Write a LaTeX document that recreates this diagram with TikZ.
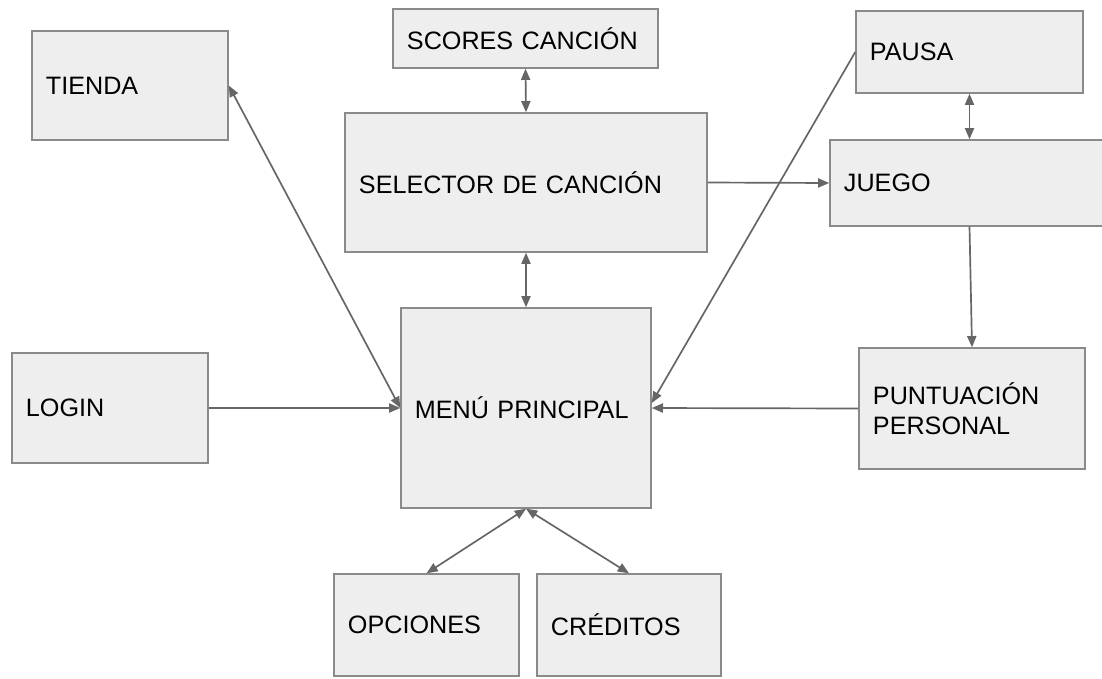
\documentclass[tikz,border=0pt]{standalone}
\usepackage{fontspec}
\setmainfont{Liberation Sans}
\usepackage{tikz}
\usetikzlibrary{arrows.meta}

\definecolor{cajagris}{HTML}{EEEEEE}
\definecolor{bordegris}{HTML}{8A8A8A}
\definecolor{flechagris}{HTML}{666666}

\begin{document}
\begin{tikzpicture}[x=0.025cm,y=-0.025cm,
    caja/.style={draw=bordegris,fill=cajagris,line width=1pt,inner xsep=0.35cm,
        align=left,font=\fontsize{17.9}{21.3}\selectfont},
    flecha/.style={draw=flechagris,line width=1.2pt,-{Triangle[length=8pt,width=6.5pt]}},
    doble/.style={flecha,{Triangle[length=8pt,width=6.5pt]}-{Triangle[length=8pt,width=6.5pt]}}]
            \clip (0,0) rectangle (1102,678);
            % cajas
            \node[caja,minimum width=6.625cm,minimum height=1.475cm,text width=5.925cm] (scores) at (525.5,38.5) {SCORES CANCIÓN};
            \node[caja,minimum width=4.9cm,minimum height=2.725cm,text width=4.2cm] (tienda) at (130,85.5) {TIENDA};
            \node[caja,minimum width=5.675cm,minimum height=2.05cm,text width=4.975cm] (pausa) at (969.5,52) {PAUSA};
            \node[caja,minimum width=9.05cm,minimum height=3.475cm,text width=8.35cm] (selector) at (526,182.5) {SELECTOR DE CANCIÓN};
            \node[caja,minimum width=7.125cm,minimum height=2.15cm,text width=6.425cm] (juego) at (972.5,183) {JUEGO};
            \node[caja,minimum width=4.9cm,minimum height=2.75cm,text width=4.2cm] (login) at (110,408) {LOGIN};
            \node[caja,minimum width=6.25cm,minimum height=5cm,text width=5.55cm] (menu) at (526,408) {MENÚ PRINCIPAL};
            \node[caja,minimum width=5.65cm,minimum height=3.025cm,text width=4.95cm] (punt) at (972,408.5) {PUNTUACIÓN\\PERSONAL};
            \node[caja,minimum width=4.625cm,minimum height=2.55cm,text width=3.925cm] (opciones) at (426.5,625) {OPCIONES};
            \node[caja,minimum width=4.6cm,minimum height=2.55cm,text width=3.9cm] (creditos) at (629,625) {CRÉDITOS};
            % conexiones
            \draw[doble] (scores.south) -- (selector.north);
            \draw[doble] (selector.south) -- (menu.north);
            \draw[flecha] (selector.east) -- (juego.west);
            \draw[doble] (pausa.south) -- (pausa.south |- juego.north);
            \draw[flecha] (pausa.south |- juego.south) -- (punt.north);
            \draw[flecha] (pausa.west) -- ([yshift=0.125cm]menu.east);
            \draw[flecha] (punt.west) -- (menu.east);
            \draw[flecha] (login.east) -- (menu.west);
            \draw[doble] (tienda.east) -- (menu.west);
            \draw[doble] (menu.south) -- (opciones.north);
            \draw[doble] (menu.south) -- (creditos.north);
        \end{tikzpicture}
\end{document}
